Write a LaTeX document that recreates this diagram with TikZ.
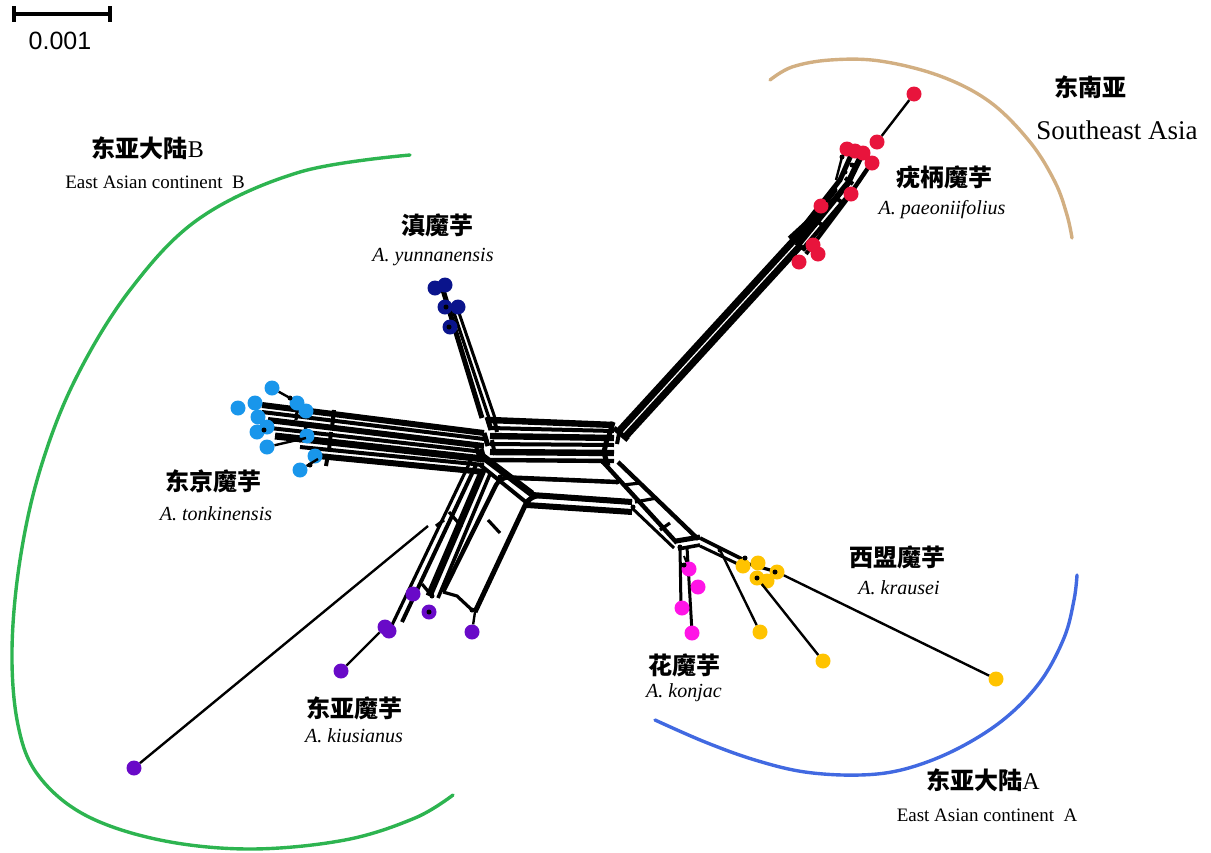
\documentclass[tikz,border=0pt]{standalone}
\usepackage{fontspec}
\setmainfont{Liberation Serif}
\newfontfamily\cjk{Noto Sans CJK SC}
\newfontfamily\sansf{Liberation Sans}
\definecolor{cred}{RGB}{232,20,60}
\definecolor{cnavy}{RGB}{10,20,140}
\definecolor{csky}{RGB}{25,150,235}
\definecolor{cpurp}{RGB}{105,10,200}
\definecolor{cmag}{RGB}{255,20,230}
\definecolor{cyel}{RGB}{255,195,0}
\definecolor{cgreen}{RGB}{45,180,80}
\definecolor{ctan}{RGB}{210,175,130}
\definecolor{carcb}{RGB}{65,105,225}
\tikzset{
  dot/.style={circle,inner sep=0pt,minimum size=15pt,fill=#1},
  jd/.style={circle,fill=black,inner sep=0pt,minimum size=5pt},
  nw/.style={line width=2*#1},
  leaf/.style={line width=2.4pt},
  arcline/.style={line width=3.4pt,line cap=round},
  cjklab/.style={font=\cjk\bfseries\fontsize{24}{26}\selectfont},
  itlab/.style={font=\itshape\fontsize{20}{22}\selectfont},
  uplab/.style={font=\fontsize{19}{21}\selectfont}
}
\begin{document}
\begin{tikzpicture}[x=1pt,y=-1pt]
\useasboundingbox (0,0) rectangle (1211,852);
% ---------------- scale bar
\coordinate (sb1) at (14,14); \coordinate (sb2) at (110,14);
\draw[line width=3.5pt] (sb1) -- (sb2);
\draw[line width=3.5pt] (14,6) -- (14,22);
\draw[line width=3.5pt] (110,6) -- (110,22);
\node[font=\sansf\fontsize{25}{27}\selectfont] (sbt) at (60,41) {0.001};
% ---------------- arcs
\draw[arcline,cgreen] plot[smooth,tension=0.6] coordinates {(410,155) (300,172) (200,218) (130,290) (75,380) (40,470) (20,560) (12,650) (18,725) (38,775) (85,815) (160,840) (250,849) (345,840) (415,818) (453,795)};
\draw[arcline,ctan] plot[smooth,tension=0.6] coordinates {(770,80) (792,67) (830,60) (880,61) (940,76) (990,102) (1030,142) (1055,182) (1067,215) (1072,238)};
\draw[arcline,carcb] plot[smooth,tension=0.6] coordinates {(655,720) (705,742) (755,760) (805,772) (860,775) (905,769) (955,750) (1003,720) (1040,682) (1064,638) (1074,600) (1077,575)};
% ---------------- central band
\foreach \a/\b/\w in {420/425/3.2, 428/431/2, 436/438/3.2, 444/445/2, 452/453/3.2, 460/461/2.2}
  \draw[nw=\w pt] (490,\a) -- (614,\b);
% left junction crossbars
\draw[nw=2.5pt] (487,417) -- (491,430);
\draw[nw=2.5pt] (484,433) -- (488,446);
\draw[nw=2.5pt] (481,449) -- (485,462);
\draw[nw=2pt] (494,418) -- (497,432);
\draw[nw=2pt] (492,440) -- (495,455);
\draw[nw=2pt] (476,446) -- (480,460);
% right junction crossbars
\draw[nw=2.5pt] (613,422) -- (609,436);
\draw[nw=2.5pt] (607,439) -- (604,452);
\draw[nw=2.5pt] (604,453) -- (608,466);
\draw[nw=2pt] (620,428) -- (617,444);
% ---------------- left band (to light blue)
\foreach \lx/\ly/\ry/\w in {262/405/433/3, 262/412/439/2, 268/420/446/3, 270/428/452/2, 275/436/459/3.5, 300/447/465/2, 318/456/472/3}
  \draw[nw=\w pt] (\lx,\ly) -- (484,\ry);
\draw[nw=2pt] (334,410) -- (332,428);
\draw[nw=2pt] (331,432) -- (329,450);
\draw[nw=2pt] (328,454) -- (326,466);
\draw[nw=1.6pt] (298,404) -- (296,420);
\draw[nw=1.6pt] (306,425) -- (304,442);
% ---------------- navy branch
\draw[nw=2.5pt] (443,290) -- (482,418);
\draw[nw=1.6pt] (452,307) -- (489,418);
\draw[nw=1.5pt] (458,310) -- (495,418);
% ---------------- red band
\draw[line width=7pt] (619.9,430.1) -- (793.9,240.1);
\draw[line width=7pt] (626.1,435.9) -- (800.1,245.9);
\draw[nw=2.5pt] (614,428) -- (628,440);
\draw[nw=2.5pt] (793,240) -- (840,180) -- (852,153);
\draw[nw=3pt] (798,245) -- (848,183) -- (862,154);
\draw[nw=2.2pt] (802,250) -- (853,190) -- (872,162);
\draw[nw=2pt] (806,254) -- (830,222) -- (851,194);
\draw[nw=1.8pt] (789,238) -- (825,205);
\draw[nw=1.8pt] (795,243) -- (836,190);
\draw[nw=1.2pt] (842,157) -- (836,180);
\draw[nw=2pt] (796,243) -- (806,250);
\draw[nw=2pt] (818,222) -- (826,228);
\draw[nw=2pt] (836,198) -- (844,204);
\draw[nw=2pt] (845,178) -- (853,184);
% ---------------- lower band
\draw[nw=1.8pt] (505,478) -- (617,482);
\draw[nw=3pt] (532,495) -- (632,502);
\draw[nw=3pt] (527,505) -- (632,512);
\draw[nw=3.5pt] (482,456) -- (532,494);
\draw[nw=2pt] (479,464) -- (527,503);
\draw[nw=2pt] (497,466) -- (506,478);
% ---------------- lower-left (purple) bundle
\draw[nw=1.6pt] (470,462) -- (392,625);
\draw[nw=2pt] (476,465) -- (402,622);
\draw[nw=3.5pt] (483,470) -- (429,596);
\draw[nw=1.8pt] (490,474) -- (438,598);
\draw[nw=2.2pt,rounded corners=9pt] (617,482) -- (500,477) -- (443,592);
\draw[nw=2.5pt,rounded corners=10pt] (632,502) -- (530,495) -- (475,612);
\draw[nw=1.6pt] (449,512) -- (462,527);
\draw[nw=1.6pt] (488,520) -- (500,533);
\draw[nw=1.6pt] (436,526) -- (444,520);
\draw[nw=1.6pt] (443,592) -- (457,596) -- (472,610);
\draw[nw=1.6pt] (422,584) -- (432,596);
% ---------------- right lower branch
\draw[nw=2.2pt] (603,462) -- (677,543);
\draw[nw=2.2pt] (618,462) -- (697,538);
\draw[nw=1.5pt] (632,508) -- (674,548);
\draw[nw=1.6pt] (623,485) -- (640,483);
\draw[nw=1.6pt] (635,502) -- (657,498);
\draw[nw=1.6pt] (660,530) -- (670,523);
\draw[nw=2.5pt] (676,541) -- (700,537);
\draw[nw=1.8pt] (678,549) -- (700,545);
\draw[nw=1.8pt] (700,538) -- (742,559);
\draw[nw=1.5pt] (700,546) -- (740,565);
\draw[nw=1.6pt] (742,562) -- (777,572);
\draw[nw=1.6pt] (752,575) -- (770,579);
\draw[nw=1.5pt] (680,547) -- (681,608);
\draw[nw=1.5pt] (687,547) -- (692,632);
\draw[nw=1pt] (684,556) -- (689,569);
% ---------------- leaf coordinates
\coordinate (cJ1) at (290,398);
\coordinate (cJ2) at (306,438);
\coordinate (cJ3) at (318,459);
\coordinate (pJ1) at (428,526);
\coordinate (pJ2) at (475,612);
\coordinate (yJ1) at (720,550);
% ---------------- taxa dots
\foreach \n/\p in {r1/{914,94}, r2/{877,142}, r3/{847,149}, r4/{855,151}, r5/{863,153}, r6/{872,163}, r7/{851,194}, r8/{821,206}, r9/{813,245}, r10/{818,254}, r11/{799,262}}
  \node[dot=cred] (\n) at (\p) {};
\foreach \n/\p in {b1/{435,288}, b2/{445,285}, b3/{445,307}, b4/{458,307}, b5/{450,327}}
  \node[dot=cnavy] (\n) at (\p) {};
\foreach \n/\p in {c1/{272,388}, c2/{255,403}, c3/{238,408}, c4/{258,417}, c5/{297,403}, c6/{306,411}, c7/{267,427}, c8/{257,432}, c9/{307,436}, c10/{267,447}, c11/{315,456}, c12/{300,470}}
  \node[dot=csky] (\n) at (\p) {};
\foreach \n/\p in {p1/{413,594}, p2/{429,612}, p3/{385,627}, p4/{389,631}, p5/{472,632}, p6/{341,671}, p7/{134,768}}
  \node[dot=cpurp] (\n) at (\p) {};
\foreach \n/\p in {m1/{689,569}, m2/{698,587}, m3/{682,608}, m4/{692,633}}
  \node[dot=cmag] (\n) at (\p) {};
\foreach \n/\p in {y1/{743,566}, y2/{758,563}, y3/{777,572}, y4/{757,578}, y5/{767,581}, y6/{760,632}, y7/{823,661}, y8/{996,679}}
  \node[dot=cyel] (\n) at (\p) {};
% ---------------- leaf edges
\draw[leaf] (r1) -- (r2);
\draw[leaf] (c1) -- (cJ1);
\draw[leaf] (c10) -- (cJ2);
\draw[leaf] (c12) -- (cJ3);
\draw[leaf] (p6) -- (p3);
\draw[leaf] (p7) -- (pJ1);
\draw[leaf] (p5) -- (pJ2);
\draw[leaf] (y6) -- (yJ1);
\draw[leaf] (y7) -- (y4);
\draw[leaf] (y8) -- (y3);
% ---------------- small junction dots
\foreach \p in {{290,398},{310,465},{264,430},{300,440},{842,157},{835,190},{828,200},{845,172},{815,225},{808,232},{852,165},{432,596},{429,612},{472,610},{449,327},{446,307},{775,572},{757,578},{745,558},{684,565},{680,547},{720,550},{697,538},{470,462},{533,495},{500,477},{617,482},{633,507},{603,462}}
  \node[jd] at (\p) {};
% ---------------- labels
\node[cjklab] (lB) at (148,148) {东亚大陆\normalfont\fontsize{24}{26}\selectfont B};
\node[uplab] (lBe) at (155,182) {East Asian continent\ \ B};
\node[cjklab] (lyun) at (437,225) {滇魔芋};
\node[itlab] (lyune) at (433,257) {A. yunnanensis};
\node[cjklab] (lse) at (1090,87) {东南亚};
\node[font=\fontsize{27}{29}\selectfont] (lsee) at (1117,130) {Southeast Asia};
\node[cjklab] (lpae) at (944,177) {疣柄魔芋};
\node[itlab] (lpaee) at (942,210) {A. paeoniifolius};
\node[cjklab] (lton) at (213,481) {东京魔芋};
\node[itlab] (ltone) at (216,514) {A. tonkinensis};
\node[cjklab] (lkra) at (897,557) {西盟魔芋};
\node[itlab] (lkrae) at (899,588) {A. krausei};
\node[cjklab] (lkon) at (684,665) {花魔芋};
\node[itlab] (lkone) at (684,693) {A. konjac};
\node[cjklab] (lkiu) at (354,708) {东亚魔芋};
\node[itlab] (lkiue) at (354,736) {A. kiusianus};
\node[cjklab] (lA) at (983,780) {东亚大陆\normalfont\fontsize{24}{26}\selectfont A};
\node[uplab] (lAe) at (987,815) {East Asian continent\ \ A};
\end{tikzpicture}
\end{document}
